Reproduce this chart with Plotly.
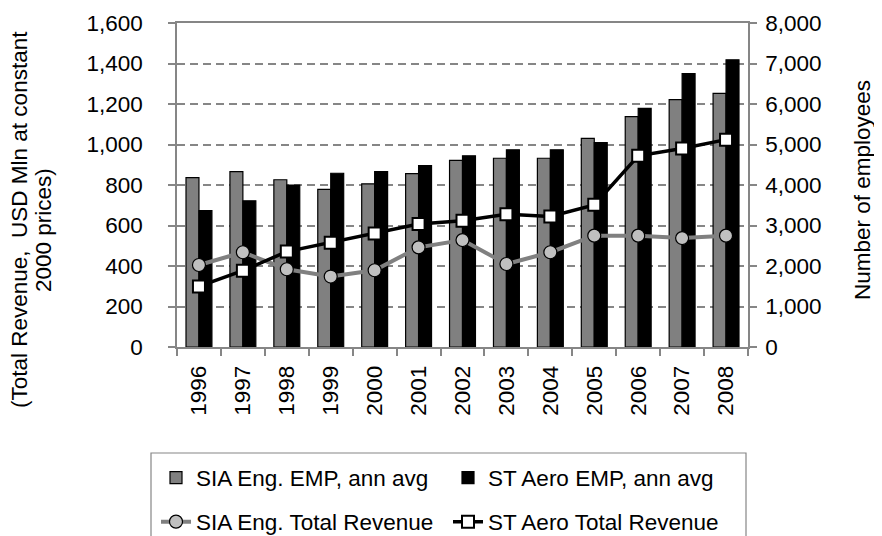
import plotly.graph_objects as go

years = ["1996", "1997", "1998", "1999", "2000", "2001", "2002",
         "2003", "2004", "2005", "2006", "2007", "2008"]
sia_emp = [4180, 4330, 4130, 3890, 4030, 4280, 4610, 4660, 4660, 5150, 5690, 6110, 6260]
st_emp = [3370, 3610, 4000, 4290, 4330, 4480, 4720, 4870, 4870, 5050, 5890, 6750, 7090]
sia_rev = [405, 468, 384, 348, 379, 492, 528, 410, 468, 550, 550, 538, 550]
st_rev = [299, 377, 471, 515, 561, 607, 624, 656, 645, 702, 944, 980, 1024]

FONT = "Arial, Liberation Sans, sans-serif"
AX = "#868686"
FS = 22.5

fig = go.Figure()
fig.add_trace(go.Bar(x=years, y=sia_emp, name="SIA Eng. EMP, ann avg",
                     marker=dict(color="#808080", line=dict(color="#000000", width=1.2)),
                     yaxis="y", legend="legend"))
fig.add_trace(go.Bar(x=years, y=st_emp, name="ST Aero EMP, ann avg",
                     marker=dict(color="#000000", line=dict(color="#000000", width=1.2)),
                     yaxis="y", legend="legend"))
fig.add_trace(go.Scatter(x=years, y=sia_rev, name="SIA Eng. Total Revenue", mode="lines+markers",
                         line=dict(color="#808080", width=4),
                         marker=dict(symbol="circle", size=13, color="#C0C0C0",
                                     line=dict(color="#000000", width=1.2)),
                         yaxis="y2", legend="legend2"))
fig.add_trace(go.Scatter(x=years, y=st_rev, name="ST Aero Total Revenue", mode="lines+markers",
                         line=dict(color="#000000", width=3.5),
                         marker=dict(symbol="square", size=12, color="#FFFFFF",
                                     line=dict(color="#000000", width=2)),
                         yaxis="y2", legend="legend2"))

W, H = 882, 536
L, R, T, B = 169, 740, 15, 339
pw, ph = R - L, B - T

def px(xp):
    return (xp - L) / pw

def py(yp):
    return (B - yp) / ph

fig.update_layout(
    width=W, height=H,
    margin=dict(l=L, r=W - R, t=T, b=H - B, autoexpand=False),
    paper_bgcolor="white", plot_bgcolor="white",
    font=dict(family=FONT, size=FS, color="#000000"),
    barmode="group", bargap=0.41, bargroupgap=0,
    xaxis=dict(type="category", range=[-0.5, 12.5], showline=True, linecolor=AX, linewidth=1.5,
               mirror=True, ticks="outside", tickson="boundaries", ticklen=7, tickcolor=AX,
               tickwidth=1.5, tickangle=-90, showgrid=False, ticklabelstandoff=8,
               tickfont=dict(size=FS)),
    yaxis=dict(side="right", range=[0, 8000], dtick=1000, tickformat=",", showline=True,
               linecolor=AX, linewidth=1.5, ticks="outside", ticklen=7, tickcolor=AX, tickwidth=1.5,
               showgrid=True, gridcolor=AX, gridwidth=1.5, griddash="8px,5px", zeroline=False,
               ticklabelstandoff=4, tickfont=dict(size=FS)),
    yaxis2=dict(overlaying="y", side="left", range=[0, 1600], dtick=200, tickformat=",",
                showline=True, linecolor=AX, linewidth=1.5, ticks="outside", ticklen=7,
                tickcolor=AX, tickwidth=1.5, showgrid=False, zeroline=False,
                ticklabelstandoff=21, tickfont=dict(size=FS)),
    legend=dict(orientation="h", x=px(148), xanchor="left", y=py(470), yanchor="middle",
                entrywidth=247, font=dict(size=FS), bgcolor="rgba(0,0,0,0)", traceorder="normal"),
    legend2=dict(orientation="h", x=px(148), xanchor="left", y=py(514), yanchor="middle",
                 entrywidth=247, font=dict(size=FS), bgcolor="rgba(0,0,0,0)", traceorder="normal"),
    shapes=[dict(type="rect", xref="paper", yref="paper", x0=px(143), x1=px(738),
                 y0=py(533), y1=py(445), line=dict(color=AX, width=1.2))],
    annotations=[
        dict(text="(Total Revenue,  USD Mln at constant", textangle=-90,
             xref="paper", yref="paper", x=px(11), y=py(212), xanchor="center", yanchor="middle",
             showarrow=False, font=dict(size=FS), borderpad=0),
        dict(text="2000 prices)", textangle=-90,
             xref="paper", yref="paper", x=px(36), y=py(222), xanchor="center", yanchor="middle",
             showarrow=False, font=dict(size=FS), borderpad=0),
        dict(text="Number of employees", textangle=-90, xref="paper", yref="paper",
             x=px(854), y=py(182), xanchor="center", yanchor="middle", showarrow=False,
             font=dict(size=FS)),
    ],
)

fig.write_html("out.html")
